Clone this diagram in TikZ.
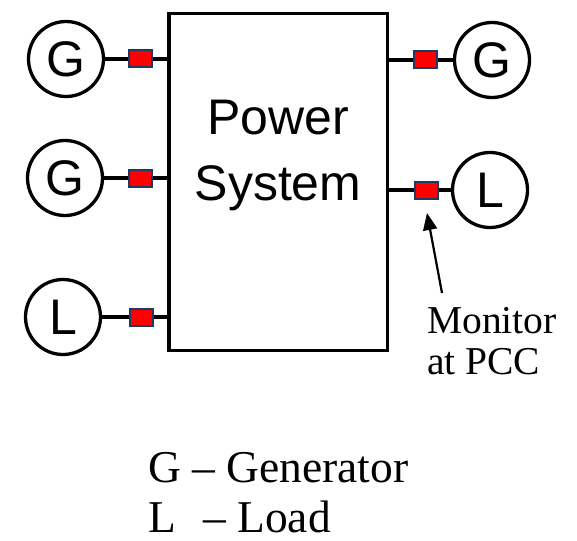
\documentclass[tikz,border=0pt]{standalone}
\usepackage{fontspec}
\setmainfont{Liberation Serif}
\newfontfamily\arialf{Liberation Sans}
\usetikzlibrary{arrows.meta}
\definecolor{meterborder}{RGB}{31,56,100}
\definecolor{meterfill}{RGB}{255,0,0}
\begin{document}
\begin{tikzpicture}[x=1pt,y=-1pt,
  wire/.style={line width=3.5pt},
  src/.style={circle,draw,line width=3.3pt,minimum size=75pt,inner sep=0pt,
    font=\arialf\fontsize{50}{50}\selectfont},
  meter/.style={draw=meterborder,fill=meterfill,line width=2pt,
    minimum width=23pt,minimum height=17pt,inner sep=0pt},
  bigtext/.style={font=\arialf\fontsize{50}{50}\selectfont,inner sep=0pt,anchor=base},
  sertext/.style={inner sep=0pt,anchor=base west}]
\useasboundingbox (0,0) rectangle (577,540);
% main box
\node[draw,line width=3.5pt,minimum width=218.5pt,minimum height=336.5pt,inner sep=0pt] (ps) at (278,182) {};
\node[bigtext] (pw) at (278,135) {Power};
\node[bigtext] (sy) at (278,200) {System};
% sources / loads
\node[src] (g1) at (66,59) {G};
\node[src] (g2) at (65,178) {G};
\node[src] (l1) at (63,317) {L};
\node[src] (g3) at (492,60) {G};
\node[src] (l2) at (490,190) {L};
% meters
\node[meter] (m1) at (140,59) {};
\node[meter] (m2) at (140,178) {};
\node[meter] (m3) at (141,317) {};
\node[meter] (m4) at (425,60) {};
\node[meter] (m5) at (426,190) {};
% wires
\draw[wire] (g1.east) -- (m1.west);
\draw[wire] (m1.east) -- (m1 -| ps.west);
\draw[wire] (g2.east) -- (m2.west);
\draw[wire] (m2.east) -- (m2 -| ps.west);
\draw[wire] (l1.east) -- (m3.west);
\draw[wire] (m3.east) -- (m3 -| ps.west);
\draw[wire] (g3.west) -- (m4.east);
\draw[wire] (m4.west) -- (m4 -| ps.east);
\draw[wire] (l2.west) -- (m5.east);
\draw[wire] (m5.west) -- (m5 -| ps.east);
% monitor label and arrow
\node[sertext,align=left,font=\fontsize{39.5}{41}\selectfont] (mon) at (427,374) {Monitor\\at PCC};
\coordinate (tail) at (442,293);
\coordinate (tip) at (427,213);
\draw[line width=2.2pt,-{Triangle[length=17pt,width=14pt]}] (tail) -- (tip);
% legend
\node[sertext,font=\fontsize{45.5}{45.5}\selectfont] (lg1) at (148,482) {G – Generator};
\node[sertext,font=\fontsize{45.5}{45.5}\selectfont] (lg2) at (148,532) {L\hspace{0.6em}– Load};
\end{tikzpicture}
\end{document}
